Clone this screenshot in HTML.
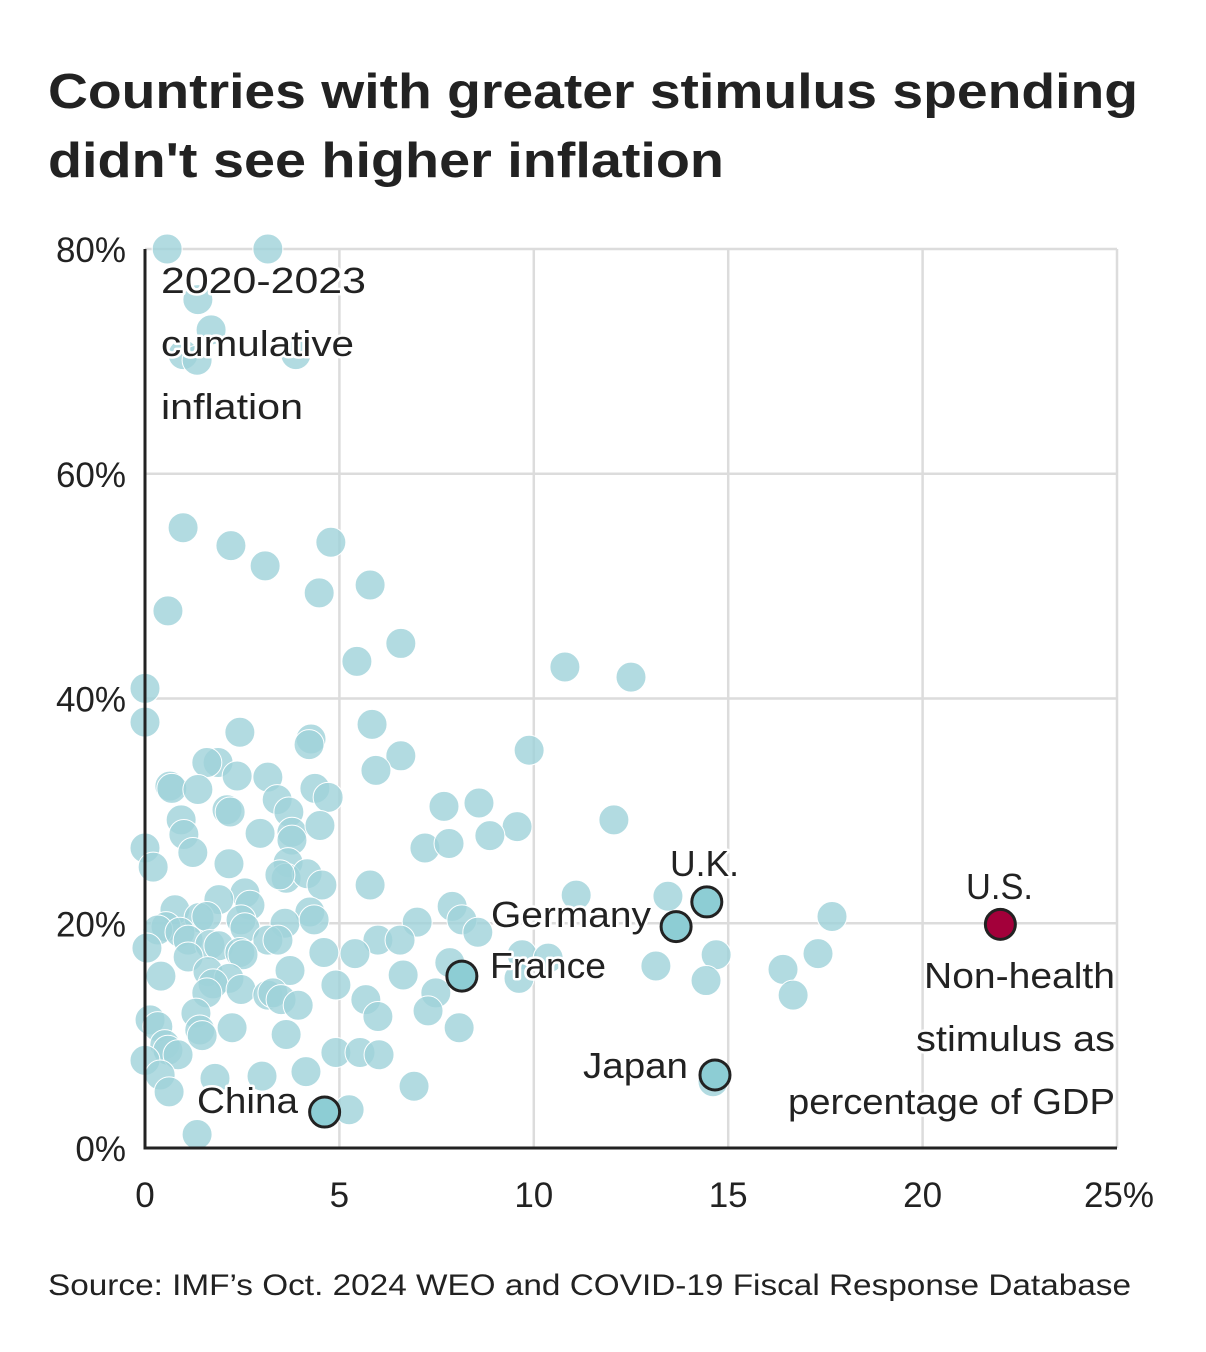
<!DOCTYPE html>
<html><head><meta charset="utf-8"><style>
html,body{margin:0;padding:0;background:#fff;}
svg{display:block;font-family:"Liberation Sans",sans-serif;}
.tick{font-size:35px;fill:#222;}
.ann{font-size:36px;fill:#222;paint-order:stroke;stroke:#fff;stroke-width:5px;stroke-linejoin:round;}
</style></head><body>
<svg id="chart" width="1206" height="1352" viewBox="0 0 1206 1352">
<text x="48" y="108" font-size="49" font-weight="bold" fill="#222" textLength="1090" lengthAdjust="spacingAndGlyphs">Countries with greater stimulus spending</text>
<text x="48" y="177" font-size="49" font-weight="bold" fill="#222" textLength="676" lengthAdjust="spacingAndGlyphs">didn't see higher inflation</text>
<g id="grid"></g>
<g id="dots"></g>
<g id="axes"></g>
<g id="labels"></g>
<text x="48" y="1295" font-size="30" fill="#222" textLength="1083" lengthAdjust="spacingAndGlyphs">Source: IMF’s Oct. 2024 WEO and COVID-19 Fiscal Response Database</text>
</svg>
<script>
const stimulus=[0.57,3.16,1.36,1.70,0.98,1.34,3.88,0.98,2.21,3.09,4.78,4.48,5.79,0.59,6.58,5.45,10.8,12.5,0,0,2.44,4.27,4.22,5.84,6.58,9.88,1.88,1.59,0.64,0.69,2.37,3.16,5.94,1.36,4.37,4.71,3.40,2.11,2.19,3.70,7.69,8.59,12.06,0.93,1.00,2.96,3.78,4.50,9.57,8.87,1.23,3.78,0,0.21,7.20,7.82,2.16,3.68,3.63,4.17,3.47,4.55,5.79,11.09,13.45,17.67,2.57,2.70,1.90,0.77,1.39,4.24,7.90,8.15,8.56,0.54,0.33,0.90,1.59,2.47,2.57,3.60,4.35,7.00,1.11,1.67,1.90,2.44,3.16,3.42,5.99,6.56,4.60,5.40,0.05,1.11,2.52,9.70,10.37,14.69,17.31,7.84,0.41,1.62,2.16,3.73,6.64,13.14,16.41,1.75,4.91,1.59,2.47,3.16,3.29,3.50,3.94,7.48,9.62,14.43,16.67,5.68,5.99,7.28,8.08,0.13,0.33,1.31,1.41,2.24,3.63,1.47,0.51,0.59,0.85,4.91,5.53,6.02,0,0.39,0.62,1.80,3.01,4.14,6.92,5.25,1.34,14.61];
const inflation=[80.0,80.0,75.5,72.8,70.6,70.1,70.6,55.2,53.6,51.8,53.9,49.4,50.1,47.8,44.9,43.3,42.8,41.9,40.9,37.9,37.0,36.4,35.9,37.7,34.9,35.4,34.3,34.3,32.2,32.0,33.1,33.0,33.6,31.9,32.0,31.2,31.0,30.1,29.9,29.9,30.4,30.7,29.2,29.2,27.9,28.0,28.1,28.7,28.6,27.8,26.3,27.4,26.7,25.0,26.7,27.1,25.3,25.4,24.0,24.4,24.3,23.4,23.4,22.5,22.4,20.6,22.7,21.6,22.1,21.2,20.5,21.0,21.5,20.3,19.2,19.7,19.4,19.2,20.6,20.3,19.6,20.0,20.3,20.1,18.5,18.1,18.0,17.4,18.5,18.5,18.5,18.5,17.4,17.3,17.8,17.0,17.2,17.2,16.9,17.2,17.3,16.5,15.3,15.7,15.1,15.8,15.4,16.2,15.9,14.6,14.5,13.8,14.1,13.6,13.8,13.2,12.7,13.8,15.1,14.9,13.6,13.2,11.7,12.2,10.7,11.4,10.8,12.0,10.5,10.7,10.1,10.0,9.2,8.7,8.3,8.5,8.5,8.3,7.8,6.5,5.0,6.2,6.4,6.8,5.5,3.4,1.2,5.9];
const hlNames=["China","France","Germany","U.K.","Japan","U.S."];
const hlStimulus=[4.62,8.15,13.66,14.45,14.66,22.0];
const hlInflation=[3.2,15.3,19.7,21.9,6.5,19.9];
const xTicks=[0,5,10,15,20,25];
const xTickLabels=["0","5","10","15","20","25%"];
const yTicks=[0,20,40,60,80];
const yTickLabels=["0%","20%","40%","60%","80%"];

const NS="http://www.w3.org/2000/svg";
const X=v=>145+v*(1117-145)/25;
const Y=v=>1148-v*(1148-249)/80;
function mk(tag,attrs,parent,txt){const e=document.createElementNS(NS,tag);for(const k in attrs)e.setAttribute(k,attrs[k]);if(txt!=null)e.textContent=txt;parent.appendChild(e);return e;}
const grid=document.getElementById('grid'),dots=document.getElementById('dots'),axes=document.getElementById('axes'),labels=document.getElementById('labels');
xTicks.forEach((t,i)=>{
 if(t>0){const l=mk('line',{x1:X(t),x2:X(t),y1:Y(80),y2:Y(0),stroke:'#dcdcdc','stroke-width':2.5},grid);
 
 }
 const tx=mk('text',{x:X(t)+(i===5?2:0),y:1207,'text-anchor':'middle',class:'tick'},axes,xTickLabels[i]);
 
 
});
yTicks.forEach((t,i)=>{
 if(t>0){const l=mk('line',{x1:X(0),x2:X(25),y1:Y(t),y2:Y(t),stroke:'#dcdcdc','stroke-width':2.5},grid);
 
 }
 const tx=mk('text',{x:126,y:Y(t)+13,'text-anchor':'end',class:'tick'},axes,yTickLabels[i]);
 
 
});
stimulus.forEach((s,i)=>{
 const c=mk('circle',{cx:X(s),cy:Y(inflation[i]),r:15,fill:'#9fd2d9','fill-opacity':0.8,stroke:'#fff','stroke-width':1},dots);
 
 
});
hlStimulus.forEach((s,i)=>{
 const us=hlNames[i]==='U.S.';
 const c=mk('circle',{cx:X(s),cy:Y(hlInflation[i]),r:15,fill:us?'#a3003a':'#8dcdd4',stroke:'#222','stroke-width':3},dots);
 
 
});
const ya=mk('line',{x1:X(0),x2:X(0),y1:Y(80),y2:Y(0)+1,stroke:'#222','stroke-width':3},axes);


const xa=mk('line',{x1:X(0)-1.5,x2:X(25),y1:Y(0),y2:Y(0),stroke:'#222','stroke-width':3},axes);


const anns=[
 ['y-axis-title',161,293,'start','2020-2023',205],['y-axis-title',161,356,'start','cumulative',193],['y-axis-title',161,419,'start','inflation',142],
 ['x-axis-title',1115,988,'end','Non-health',191],['x-axis-title',1115,1051,'end','stimulus as',199],['x-axis-title',1115,1114,'end','percentage of GDP',327],
 ['label-uk',670,876,'start','U.K.',69],['label-us',966,899,'start','U.S.',67],['label-germany',491,927,'start','Germany',160],
 ['label-france',490,978,'start','France',116],['label-japan',583,1078,'start','Japan',105],['label-china',197,1113,'start','China',101]];
anns.forEach(a=>{
 const x=a[3]==='end'?a[1]-a[5]:a[1];
 const t=mk('text',{x:x,y:a[2],class:'ann',textLength:a[5],lengthAdjust:'spacingAndGlyphs'},labels,a[4]);
 
 
});
</script>
</body></html>
